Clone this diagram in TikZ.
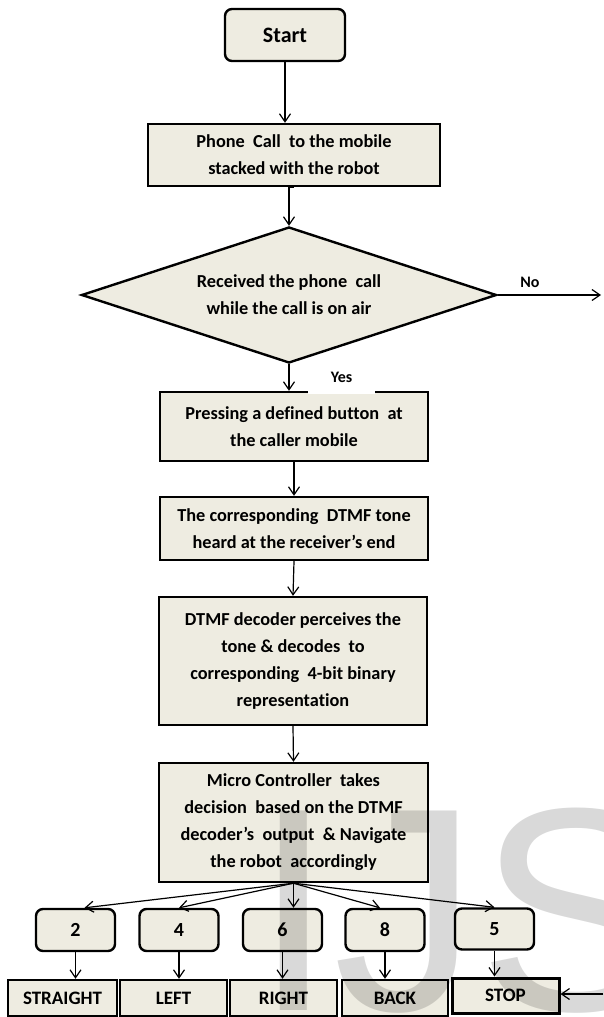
\documentclass[tikz,border=0pt]{standalone}
\usepackage{fontspec}
\setmainfont{Carlito}[Ligatures={NoCommon}]
\newfontfamily\wmfont{Liberation Sans}
\usetikzlibrary{shapes.geometric,arrows.meta,calc}
\definecolor{bg}{HTML}{EEECE1}
\begin{document}
\begin{tikzpicture}[x=1pt,y=-1pt,
  box/.style={draw, line width=2.4pt, fill=bg, align=center, inner sep=0pt,
    font=\bfseries\fontsize{18.3}{27}\selectfont},
  rbox/.style={box, rounded corners=7pt},
  numbox/.style={rbox, minimum width=79pt, minimum height=42pt, font=\bfseries\fontsize{20}{24}\selectfont},
  actbox/.style={box, minimum width=107pt, minimum height=36pt, font=\bfseries\fontsize{19}{22}\selectfont},
  arr/.style={-{Straight Barb[length=8pt,width=11pt]}, line width=1.2pt},
  lbl/.style={font=\bfseries\fontsize{16}{18}\selectfont, inner sep=0pt}
]
\useasboundingbox (0,0) rectangle (603,1017);

\node[rbox, minimum width=120pt, minimum height=52pt, font=\bfseries\fontsize{22}{24}\selectfont] (start) at (285,35) {Start};
\node[box, minimum width=292pt, minimum height=62pt] (phone) at (294,155) {Phone \ Call \ to the mobile\\stacked with the robot};
\node[box, shape=diamond, aspect=3.05, minimum width=415pt, minimum height=136pt] (dec) at (289,295) {Received the phone \ call\\while the call is on air};
\node[box, minimum width=268pt, minimum height=69pt] (press) at (294,426.5) {Pressing a defined button \ at\\the caller mobile};
\node[box, minimum width=268pt, minimum height=63pt] (tone) at (294,528.5) {The corresponding \ DTMF tone\\heard at the receiver's end};
\node[box, minimum width=268pt, minimum height=128pt] (decoder) at (293,661) {DTMF decoder perceives the\\tone \& decodes \ to\\corresponding \ 4-bit binary\\representation};
\node[box, minimum width=269pt, minimum height=119pt] (micro) at (293.5,822.5) {Micro Controller \ takes\\decision \ based on the DTMF\\decoder's \ output \ \& Navigate\\the robot \ accordingly};

\node[numbox] (n2) at (75.5,930) {2};
\node[numbox] (n4) at (179,930) {4};
\node[numbox] (n6) at (282.5,930) {6};
\node[numbox] (n8) at (385,930) {8};
\node[numbox, minimum height=41pt] (n5) at (494.5,929) {5};

\node[actbox, minimum width=109pt] (straight) at (62.5,998) {STRAIGHT};
\node[actbox] (left) at (173.5,998) {LEFT};
\node[actbox] (right) at (283.5,998) {RIGHT};
\node[actbox, minimum width=106pt] (back) at (395,998) {BACK};
\node[actbox, line width=3pt, minimum height=35pt] (stop) at (505.5,995.5) {STOP};

\coordinate (noend) at (601,295);
\coordinate (rin) at (603,994);

\draw[arr] (start.south) -- (start.south |- phone.north);
\draw[arr] (phone.south) -- (phone.south -| dec.north) -- (dec.north);
\draw[arr] (dec.east) -- (noend);
\draw[arr] (dec.south) -- (dec.south |- press.north);
\draw[arr] (press.south) -- (tone.north);
\draw[arr] (tone.south) -- (decoder.north);
\draw[arr] (decoder.south) -- (micro.north);

\draw[arr] (micro.south) -- ([xshift=9pt]n2.north);
\draw[arr] (micro.south) -- (n4.north);
\draw[arr] (micro.south) -- (micro.south |- n6.north);
\draw[arr] (micro.south) -- ([xshift=-5pt]n8.north);
\draw[arr] (micro.south) -- (n5.north);

\draw[arr] (n2.south) -- (n2.south |- straight.north);
\draw[arr] (n4.south) -- (n4.south |- left.north);
\draw[arr] (n6.south) -- (n6.south |- right.north);
\draw[arr] (n8.south) -- (n8.south |- back.north);
\draw[arr] (n5.south) -- (n5.south |- stop.north);
\draw[arr] (rin) -- (rin -| stop.east);

\node[lbl] (no) at (530,282) {No};
\node[lbl, fill=white, minimum width=67pt, minimum height=33pt] (yes) at (341.5,377) {Yes};

\node[anchor=base west, inner sep=0pt, text=black, opacity=0.15,
  font=\wmfont\fontsize{290}{290}\selectfont] (wm) at (253,1010) {IJS};
\end{tikzpicture}
\end{document}
